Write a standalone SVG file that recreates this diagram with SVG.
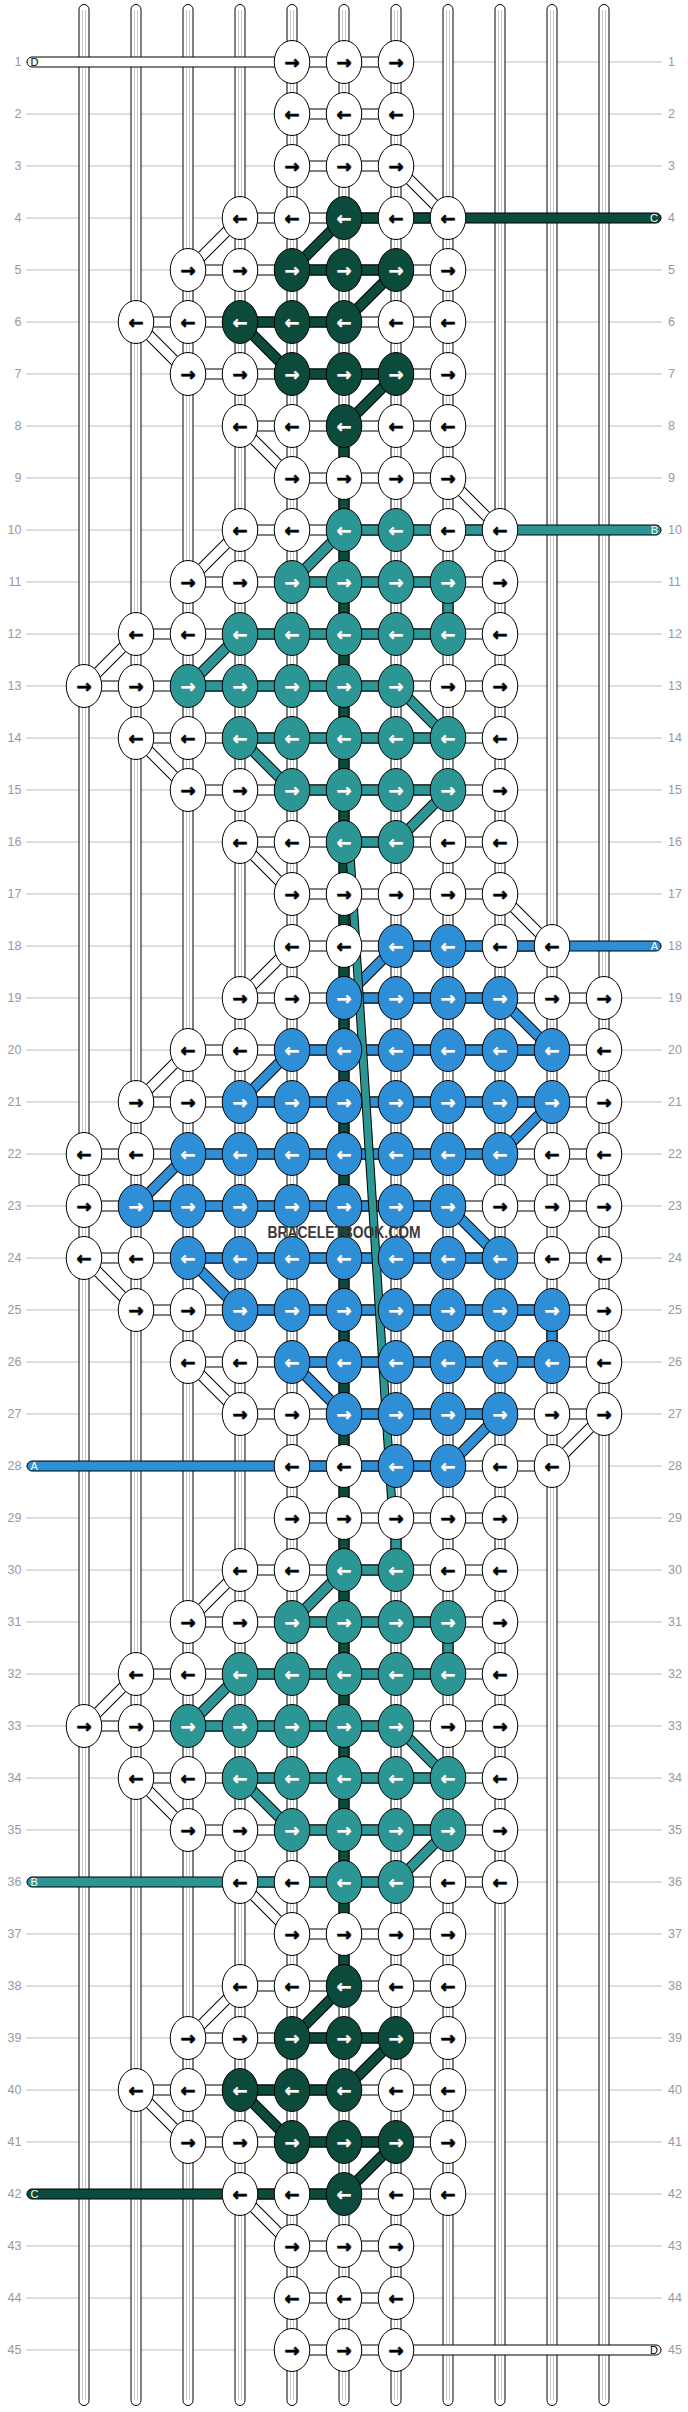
<svg xmlns="http://www.w3.org/2000/svg" width="688" height="2412" viewBox="0 0 688 2412">
<style>
.gl{fill:none;stroke:#bdbdbd;stroke-width:1.2}
.rl{font-family:"Liberation Sans",Arial,sans-serif;font-size:12.5px;fill:#999;dominant-baseline:central}
.rl.l text{text-anchor:end}
.st{fill:#fff;stroke:#000;stroke-width:1}
.sg{fill:none;stroke:#c8c8c8;stroke-width:1}
.hw{fill:#fff;stroke:#000;stroke-width:1}
.hd{fill:#0c4a3b;stroke:#000;stroke-width:1}
.ht{fill:#2b9693;stroke:#000;stroke-width:1}
.hb{fill:#2f8fd6;stroke:#000;stroke-width:1}
.o{fill:none;stroke:#000;stroke-width:11}
.iw{fill:none;stroke:#fff;stroke-width:9}
.id{fill:none;stroke:#0c4a3b;stroke-width:9}
.it{fill:none;stroke:#2b9693;stroke-width:9}
.ib{fill:none;stroke:#2f8fd6;stroke-width:9}
.k text{font-family:"DejaVu Sans",sans-serif;font-weight:bold;font-size:18px;text-anchor:middle;dominant-baseline:central}
.k.w{fill:#fff}.k.w text{fill:#000;stroke:#000;stroke-width:0.7}
.k.d{fill:#0c4a3b}.k.t{fill:#2b9693}.k.b{fill:#2f8fd6}
.k.d text,.k.t text,.k.b text{fill:#fff;stroke:#fff;stroke-width:0.4}
.sl{font-family:"Liberation Sans",Arial,sans-serif;font-size:11px;dominant-baseline:central}
</style>
<defs>
<ellipse id="E" rx="17.75" ry="21.5" stroke="#000" stroke-width="1"/>
<path id="dW" d="M396 166L448 218M240 218L188 270M136 322L188 374M240 426L292 478M448 478L500 530M240 530L188 582M136 634L84 686M136 738L188 790M240 842L292 894M500 894L552 946M292 946L240 998M188 1050L136 1102M84 1258L136 1310M188 1362L240 1414M604 1414L552 1466M240 1570L188 1622M136 1674L84 1726M136 1778L188 1830M240 1882L292 1934M240 1986L188 2038M136 2090L188 2142M240 2194L292 2246"/>
<path id="dD" d="M344 218L292 270M396 270L344 322M240 322L292 374M396 374L344 426M344 1986L292 2038M396 2038L344 2090M240 2090L292 2142M396 2142L344 2194"/>
<path id="dT" d="M344 530L292 582M240 634L188 686M396 686L448 738M240 738L292 790M448 790L396 842M344 1570L292 1622M240 1674L188 1726M396 1726L448 1778M240 1778L292 1830M448 1830L396 1882"/>
<path id="dB" d="M396 946L344 998M500 998L552 1050M292 1050L240 1102M552 1102L500 1154M188 1154L136 1206M448 1206L500 1258M188 1258L240 1310M292 1362L344 1414M500 1414L448 1466"/>
</defs>
<rect width="688" height="2412" fill="#fff"/>
<g id="grid">
<path class="gl" d="M26 62H662M26 114H662M26 166H662M26 218H662M26 270H662M26 322H662M26 374H662M26 426H662M26 478H662M26 530H662M26 582H662M26 634H662M26 686H662M26 738H662M26 790H662M26 842H662M26 894H662M26 946H662M26 998H662M26 1050H662M26 1102H662M26 1154H662M26 1206H662M26 1258H662M26 1310H662M26 1362H662M26 1414H662M26 1466H662M26 1518H662M26 1570H662M26 1622H662M26 1674H662M26 1726H662M26 1778H662M26 1830H662M26 1882H662M26 1934H662M26 1986H662M26 2038H662M26 2090H662M26 2142H662M26 2194H662M26 2246H662M26 2298H662M26 2350H662"/>
<g class="rl l">
<text x="21.5" y="62">1</text><text x="21.5" y="114">2</text><text x="21.5" y="166">3</text><text x="21.5" y="218">4</text><text x="21.5" y="270">5</text><text x="21.5" y="322">6</text><text x="21.5" y="374">7</text><text x="21.5" y="426">8</text><text x="21.5" y="478">9</text><text x="21.5" y="530">10</text><text x="21.5" y="582">11</text><text x="21.5" y="634">12</text><text x="21.5" y="686">13</text><text x="21.5" y="738">14</text><text x="21.5" y="790">15</text><text x="21.5" y="842">16</text><text x="21.5" y="894">17</text><text x="21.5" y="946">18</text><text x="21.5" y="998">19</text><text x="21.5" y="1050">20</text><text x="21.5" y="1102">21</text><text x="21.5" y="1154">22</text><text x="21.5" y="1206">23</text><text x="21.5" y="1258">24</text><text x="21.5" y="1310">25</text><text x="21.5" y="1362">26</text><text x="21.5" y="1414">27</text><text x="21.5" y="1466">28</text><text x="21.5" y="1518">29</text><text x="21.5" y="1570">30</text><text x="21.5" y="1622">31</text><text x="21.5" y="1674">32</text><text x="21.5" y="1726">33</text><text x="21.5" y="1778">34</text><text x="21.5" y="1830">35</text><text x="21.5" y="1882">36</text><text x="21.5" y="1934">37</text><text x="21.5" y="1986">38</text><text x="21.5" y="2038">39</text><text x="21.5" y="2090">40</text><text x="21.5" y="2142">41</text><text x="21.5" y="2194">42</text><text x="21.5" y="2246">43</text><text x="21.5" y="2298">44</text><text x="21.5" y="2350">45</text>
</g>
<g class="rl">
<text x="668" y="62">1</text><text x="668" y="114">2</text><text x="668" y="166">3</text><text x="668" y="218">4</text><text x="668" y="270">5</text><text x="668" y="322">6</text><text x="668" y="374">7</text><text x="668" y="426">8</text><text x="668" y="478">9</text><text x="668" y="530">10</text><text x="668" y="582">11</text><text x="668" y="634">12</text><text x="668" y="686">13</text><text x="668" y="738">14</text><text x="668" y="790">15</text><text x="668" y="842">16</text><text x="668" y="894">17</text><text x="668" y="946">18</text><text x="668" y="998">19</text><text x="668" y="1050">20</text><text x="668" y="1102">21</text><text x="668" y="1154">22</text><text x="668" y="1206">23</text><text x="668" y="1258">24</text><text x="668" y="1310">25</text><text x="668" y="1362">26</text><text x="668" y="1414">27</text><text x="668" y="1466">28</text><text x="668" y="1518">29</text><text x="668" y="1570">30</text><text x="668" y="1622">31</text><text x="668" y="1674">32</text><text x="668" y="1726">33</text><text x="668" y="1778">34</text><text x="668" y="1830">35</text><text x="668" y="1882">36</text><text x="668" y="1934">37</text><text x="668" y="1986">38</text><text x="668" y="2038">39</text><text x="668" y="2090">40</text><text x="668" y="2142">41</text><text x="668" y="2194">42</text><text x="668" y="2246">43</text><text x="668" y="2298">44</text><text x="668" y="2350">45</text>
</g>
</g>
<g id="connectors">
<g id="strands">
<rect class="st" x="79" y="4.5" width="10" height="2401" rx="5"/>
<rect class="st" x="131" y="4.5" width="10" height="2401" rx="5"/>
<rect class="st" x="183" y="4.5" width="10" height="2401" rx="5"/>
<rect class="st" x="235" y="4.5" width="10" height="2401" rx="5"/>
<rect class="st" x="287" y="4.5" width="10" height="2401" rx="5"/>
<rect class="st" x="339" y="4.5" width="10" height="2401" rx="5"/>
<rect class="st" x="391" y="4.5" width="10" height="2401" rx="5"/>
<rect class="st" x="443" y="4.5" width="10" height="2401" rx="5"/>
<rect class="st" x="495" y="4.5" width="10" height="2401" rx="5"/>
<rect class="st" x="547" y="4.5" width="10" height="2401" rx="5"/>
<rect class="st" x="599" y="4.5" width="10" height="2401" rx="5"/>
<path class="sg" d="M82.5 10V2400M85.5 10V2400M134.5 10V2400M137.5 10V2400M186.5 10V2400M189.5 10V2400M238.5 10V2400M241.5 10V2400M290.5 10V2400M293.5 10V2400M342.5 10V2400M345.5 10V2400M394.5 10V2400M397.5 10V2400M446.5 10V2400M449.5 10V2400M498.5 10V2400M501.5 10V2400M550.5 10V2400M553.5 10V2400M602.5 10V2400M605.5 10V2400"/>
</g>
<g id="vertical-colored">
<rect class="hd" x="339" y="426" width="10" height="1560"/>
<rect class="ht" x="443" y="582" width="10" height="52"/>
<rect class="ht" x="443" y="1622" width="10" height="52"/>
<rect class="hb" x="547" y="1310" width="10" height="52"/>
<rect class="ht" x="391" y="1518" width="10" height="52"/>
</g>
<g id="diagonals">
<use href="#dW" class="o"/><use href="#dW" class="iw"/>
<use href="#dD" class="o"/><use href="#dD" class="id"/>
<use href="#dT" class="o"/><use href="#dT" class="it"/>
<use href="#dB" class="o"/><use href="#dB" class="ib"/>
</g>
<g id="horizontal-white">
<rect class="hw" x="27" y="57" width="369" height="10" rx="5"/>
<rect class="hw" x="292" y="109" width="104" height="10"/>
<rect class="hw" x="292" y="161" width="104" height="10"/>
<rect class="hw" x="240" y="213" width="208" height="10"/>
<rect class="hw" x="188" y="265" width="260" height="10"/>
<rect class="hw" x="136" y="317" width="312" height="10"/>
<rect class="hw" x="188" y="369" width="260" height="10"/>
<rect class="hw" x="240" y="421" width="208" height="10"/>
<rect class="hw" x="292" y="473" width="156" height="10"/>
<rect class="hw" x="240" y="525" width="260" height="10"/>
<rect class="hw" x="188" y="577" width="312" height="10"/>
<rect class="hw" x="136" y="629" width="364" height="10"/>
<rect class="hw" x="84" y="681" width="416" height="10"/>
<rect class="hw" x="136" y="733" width="364" height="10"/>
<rect class="hw" x="188" y="785" width="312" height="10"/>
<rect class="hw" x="240" y="837" width="260" height="10"/>
<rect class="hw" x="292" y="889" width="208" height="10"/>
<rect class="hw" x="292" y="941" width="260" height="10"/>
<rect class="hw" x="240" y="993" width="364" height="10"/>
<rect class="hw" x="188" y="1045" width="416" height="10"/>
<rect class="hw" x="136" y="1097" width="468" height="10"/>
<rect class="hw" x="84" y="1149" width="520" height="10"/>
<rect class="hw" x="84" y="1201" width="520" height="10"/>
<rect class="hw" x="84" y="1253" width="520" height="10"/>
<rect class="hw" x="136" y="1305" width="468" height="10"/>
<rect class="hw" x="188" y="1357" width="416" height="10"/>
<rect class="hw" x="240" y="1409" width="364" height="10"/>
<rect class="hw" x="292" y="1461" width="260" height="10"/>
<rect class="hw" x="292" y="1513" width="208" height="10"/>
<rect class="hw" x="240" y="1565" width="260" height="10"/>
<rect class="hw" x="188" y="1617" width="312" height="10"/>
<rect class="hw" x="136" y="1669" width="364" height="10"/>
<rect class="hw" x="84" y="1721" width="416" height="10"/>
<rect class="hw" x="136" y="1773" width="364" height="10"/>
<rect class="hw" x="188" y="1825" width="312" height="10"/>
<rect class="hw" x="240" y="1877" width="260" height="10"/>
<rect class="hw" x="292" y="1929" width="156" height="10"/>
<rect class="hw" x="240" y="1981" width="208" height="10"/>
<rect class="hw" x="188" y="2033" width="260" height="10"/>
<rect class="hw" x="136" y="2085" width="312" height="10"/>
<rect class="hw" x="188" y="2137" width="260" height="10"/>
<rect class="hw" x="240" y="2189" width="208" height="10"/>
<rect class="hw" x="292" y="2241" width="104" height="10"/>
<rect class="hw" x="292" y="2293" width="104" height="10"/>
<rect class="hw" x="292" y="2345" width="369" height="10" rx="5"/>
</g>
<g id="horizontal-colored">
<rect class="hd" x="344" y="213" width="317" height="10" rx="5"/>
<rect class="hd" x="292" y="265" width="104" height="10"/>
<rect class="hd" x="240" y="317" width="104" height="10"/>
<rect class="hd" x="292" y="369" width="104" height="10"/>
<rect class="ht" x="344" y="525" width="317" height="10" rx="5"/>
<rect class="ht" x="292" y="577" width="156" height="10"/>
<rect class="ht" x="240" y="629" width="208" height="10"/>
<rect class="ht" x="188" y="681" width="208" height="10"/>
<rect class="ht" x="240" y="733" width="208" height="10"/>
<rect class="ht" x="292" y="785" width="156" height="10"/>
<rect class="ht" x="344" y="837" width="52" height="10"/>
<rect class="hb" x="396" y="941" width="265" height="10" rx="5"/>
<rect class="hb" x="344" y="993" width="156" height="10"/>
<rect class="hb" x="292" y="1045" width="260" height="10"/>
<rect class="hb" x="240" y="1097" width="312" height="10"/>
<rect class="hb" x="188" y="1149" width="312" height="10"/>
<rect class="hb" x="136" y="1201" width="312" height="10"/>
<rect class="hb" x="188" y="1253" width="312" height="10"/>
<rect class="hb" x="240" y="1305" width="312" height="10"/>
<rect class="hb" x="292" y="1357" width="260" height="10"/>
<rect class="hb" x="344" y="1409" width="156" height="10"/>
<rect class="hb" x="27" y="1461" width="421" height="10" rx="5"/>
<rect class="ht" x="344" y="1565" width="52" height="10"/>
<rect class="ht" x="292" y="1617" width="156" height="10"/>
<rect class="ht" x="240" y="1669" width="208" height="10"/>
<rect class="ht" x="188" y="1721" width="208" height="10"/>
<rect class="ht" x="240" y="1773" width="208" height="10"/>
<rect class="ht" x="292" y="1825" width="156" height="10"/>
<rect class="ht" x="27" y="1877" width="369" height="10" rx="5"/>
<rect class="hd" x="292" y="2033" width="104" height="10"/>
<rect class="hd" x="240" y="2085" width="104" height="10"/>
<rect class="hd" x="292" y="2137" width="104" height="10"/>
<rect class="hd" x="27" y="2189" width="317" height="10" rx="5"/>
</g>
<g id="teal-crossing">
<line x1="349.5" y1="846" x2="392.5" y2="1514" stroke="#000" stroke-width="9"/>
<line x1="349.5" y1="846" x2="392.5" y2="1514" stroke="#2b9693" stroke-width="7"/>
</g>
</g>
<g id="knots">
<g id="k1-4" class="k w" transform="translate(292 62)"><use href="#E"/><text>→</text></g>
<g id="k1-5" class="k w" transform="translate(344 62)"><use href="#E"/><text>→</text></g>
<g id="k1-6" class="k w" transform="translate(396 62)"><use href="#E"/><text>→</text></g>
<g id="k2-4" class="k w" transform="translate(292 114)"><use href="#E"/><text>←</text></g>
<g id="k2-5" class="k w" transform="translate(344 114)"><use href="#E"/><text>←</text></g>
<g id="k2-6" class="k w" transform="translate(396 114)"><use href="#E"/><text>←</text></g>
<g id="k3-4" class="k w" transform="translate(292 166)"><use href="#E"/><text>→</text></g>
<g id="k3-5" class="k w" transform="translate(344 166)"><use href="#E"/><text>→</text></g>
<g id="k3-6" class="k w" transform="translate(396 166)"><use href="#E"/><text>→</text></g>
<g id="k4-3" class="k w" transform="translate(240 218)"><use href="#E"/><text>←</text></g>
<g id="k4-4" class="k w" transform="translate(292 218)"><use href="#E"/><text>←</text></g>
<g id="k4-5" class="k d" transform="translate(344 218)"><use href="#E"/><text>←</text></g>
<g id="k4-6" class="k w" transform="translate(396 218)"><use href="#E"/><text>←</text></g>
<g id="k4-7" class="k w" transform="translate(448 218)"><use href="#E"/><text>←</text></g>
<g id="k5-2" class="k w" transform="translate(188 270)"><use href="#E"/><text>→</text></g>
<g id="k5-3" class="k w" transform="translate(240 270)"><use href="#E"/><text>→</text></g>
<g id="k5-4" class="k d" transform="translate(292 270)"><use href="#E"/><text>→</text></g>
<g id="k5-5" class="k d" transform="translate(344 270)"><use href="#E"/><text>→</text></g>
<g id="k5-6" class="k d" transform="translate(396 270)"><use href="#E"/><text>→</text></g>
<g id="k5-7" class="k w" transform="translate(448 270)"><use href="#E"/><text>→</text></g>
<g id="k6-1" class="k w" transform="translate(136 322)"><use href="#E"/><text>←</text></g>
<g id="k6-2" class="k w" transform="translate(188 322)"><use href="#E"/><text>←</text></g>
<g id="k6-3" class="k d" transform="translate(240 322)"><use href="#E"/><text>←</text></g>
<g id="k6-4" class="k d" transform="translate(292 322)"><use href="#E"/><text>←</text></g>
<g id="k6-5" class="k d" transform="translate(344 322)"><use href="#E"/><text>←</text></g>
<g id="k6-6" class="k w" transform="translate(396 322)"><use href="#E"/><text>←</text></g>
<g id="k6-7" class="k w" transform="translate(448 322)"><use href="#E"/><text>←</text></g>
<g id="k7-2" class="k w" transform="translate(188 374)"><use href="#E"/><text>→</text></g>
<g id="k7-3" class="k w" transform="translate(240 374)"><use href="#E"/><text>→</text></g>
<g id="k7-4" class="k d" transform="translate(292 374)"><use href="#E"/><text>→</text></g>
<g id="k7-5" class="k d" transform="translate(344 374)"><use href="#E"/><text>→</text></g>
<g id="k7-6" class="k d" transform="translate(396 374)"><use href="#E"/><text>→</text></g>
<g id="k7-7" class="k w" transform="translate(448 374)"><use href="#E"/><text>→</text></g>
<g id="k8-3" class="k w" transform="translate(240 426)"><use href="#E"/><text>←</text></g>
<g id="k8-4" class="k w" transform="translate(292 426)"><use href="#E"/><text>←</text></g>
<g id="k8-5" class="k d" transform="translate(344 426)"><use href="#E"/><text>←</text></g>
<g id="k8-6" class="k w" transform="translate(396 426)"><use href="#E"/><text>←</text></g>
<g id="k8-7" class="k w" transform="translate(448 426)"><use href="#E"/><text>←</text></g>
<g id="k9-4" class="k w" transform="translate(292 478)"><use href="#E"/><text>→</text></g>
<g id="k9-5" class="k w" transform="translate(344 478)"><use href="#E"/><text>→</text></g>
<g id="k9-6" class="k w" transform="translate(396 478)"><use href="#E"/><text>→</text></g>
<g id="k9-7" class="k w" transform="translate(448 478)"><use href="#E"/><text>→</text></g>
<g id="k10-3" class="k w" transform="translate(240 530)"><use href="#E"/><text>←</text></g>
<g id="k10-4" class="k w" transform="translate(292 530)"><use href="#E"/><text>←</text></g>
<g id="k10-5" class="k t" transform="translate(344 530)"><use href="#E"/><text>←</text></g>
<g id="k10-6" class="k t" transform="translate(396 530)"><use href="#E"/><text>←</text></g>
<g id="k10-7" class="k w" transform="translate(448 530)"><use href="#E"/><text>←</text></g>
<g id="k10-8" class="k w" transform="translate(500 530)"><use href="#E"/><text>←</text></g>
<g id="k11-2" class="k w" transform="translate(188 582)"><use href="#E"/><text>→</text></g>
<g id="k11-3" class="k w" transform="translate(240 582)"><use href="#E"/><text>→</text></g>
<g id="k11-4" class="k t" transform="translate(292 582)"><use href="#E"/><text>→</text></g>
<g id="k11-5" class="k t" transform="translate(344 582)"><use href="#E"/><text>→</text></g>
<g id="k11-6" class="k t" transform="translate(396 582)"><use href="#E"/><text>→</text></g>
<g id="k11-7" class="k t" transform="translate(448 582)"><use href="#E"/><text>→</text></g>
<g id="k11-8" class="k w" transform="translate(500 582)"><use href="#E"/><text>→</text></g>
<g id="k12-1" class="k w" transform="translate(136 634)"><use href="#E"/><text>←</text></g>
<g id="k12-2" class="k w" transform="translate(188 634)"><use href="#E"/><text>←</text></g>
<g id="k12-3" class="k t" transform="translate(240 634)"><use href="#E"/><text>←</text></g>
<g id="k12-4" class="k t" transform="translate(292 634)"><use href="#E"/><text>←</text></g>
<g id="k12-5" class="k t" transform="translate(344 634)"><use href="#E"/><text>←</text></g>
<g id="k12-6" class="k t" transform="translate(396 634)"><use href="#E"/><text>←</text></g>
<g id="k12-7" class="k t" transform="translate(448 634)"><use href="#E"/><text>←</text></g>
<g id="k12-8" class="k w" transform="translate(500 634)"><use href="#E"/><text>←</text></g>
<g id="k13-0" class="k w" transform="translate(84 686)"><use href="#E"/><text>→</text></g>
<g id="k13-1" class="k w" transform="translate(136 686)"><use href="#E"/><text>→</text></g>
<g id="k13-2" class="k t" transform="translate(188 686)"><use href="#E"/><text>→</text></g>
<g id="k13-3" class="k t" transform="translate(240 686)"><use href="#E"/><text>→</text></g>
<g id="k13-4" class="k t" transform="translate(292 686)"><use href="#E"/><text>→</text></g>
<g id="k13-5" class="k t" transform="translate(344 686)"><use href="#E"/><text>→</text></g>
<g id="k13-6" class="k t" transform="translate(396 686)"><use href="#E"/><text>→</text></g>
<g id="k13-7" class="k w" transform="translate(448 686)"><use href="#E"/><text>→</text></g>
<g id="k13-8" class="k w" transform="translate(500 686)"><use href="#E"/><text>→</text></g>
<g id="k14-1" class="k w" transform="translate(136 738)"><use href="#E"/><text>←</text></g>
<g id="k14-2" class="k w" transform="translate(188 738)"><use href="#E"/><text>←</text></g>
<g id="k14-3" class="k t" transform="translate(240 738)"><use href="#E"/><text>←</text></g>
<g id="k14-4" class="k t" transform="translate(292 738)"><use href="#E"/><text>←</text></g>
<g id="k14-5" class="k t" transform="translate(344 738)"><use href="#E"/><text>←</text></g>
<g id="k14-6" class="k t" transform="translate(396 738)"><use href="#E"/><text>←</text></g>
<g id="k14-7" class="k t" transform="translate(448 738)"><use href="#E"/><text>←</text></g>
<g id="k14-8" class="k w" transform="translate(500 738)"><use href="#E"/><text>←</text></g>
<g id="k15-2" class="k w" transform="translate(188 790)"><use href="#E"/><text>→</text></g>
<g id="k15-3" class="k w" transform="translate(240 790)"><use href="#E"/><text>→</text></g>
<g id="k15-4" class="k t" transform="translate(292 790)"><use href="#E"/><text>→</text></g>
<g id="k15-5" class="k t" transform="translate(344 790)"><use href="#E"/><text>→</text></g>
<g id="k15-6" class="k t" transform="translate(396 790)"><use href="#E"/><text>→</text></g>
<g id="k15-7" class="k t" transform="translate(448 790)"><use href="#E"/><text>→</text></g>
<g id="k15-8" class="k w" transform="translate(500 790)"><use href="#E"/><text>→</text></g>
<g id="k16-3" class="k w" transform="translate(240 842)"><use href="#E"/><text>←</text></g>
<g id="k16-4" class="k w" transform="translate(292 842)"><use href="#E"/><text>←</text></g>
<g id="k16-5" class="k t" transform="translate(344 842)"><use href="#E"/><text>←</text></g>
<g id="k16-6" class="k t" transform="translate(396 842)"><use href="#E"/><text>←</text></g>
<g id="k16-7" class="k w" transform="translate(448 842)"><use href="#E"/><text>←</text></g>
<g id="k16-8" class="k w" transform="translate(500 842)"><use href="#E"/><text>←</text></g>
<g id="k17-4" class="k w" transform="translate(292 894)"><use href="#E"/><text>→</text></g>
<g id="k17-5" class="k w" transform="translate(344 894)"><use href="#E"/><text>→</text></g>
<g id="k17-6" class="k w" transform="translate(396 894)"><use href="#E"/><text>→</text></g>
<g id="k17-7" class="k w" transform="translate(448 894)"><use href="#E"/><text>→</text></g>
<g id="k17-8" class="k w" transform="translate(500 894)"><use href="#E"/><text>→</text></g>
<g id="k18-4" class="k w" transform="translate(292 946)"><use href="#E"/><text>←</text></g>
<g id="k18-5" class="k w" transform="translate(344 946)"><use href="#E"/><text>←</text></g>
<g id="k18-6" class="k b" transform="translate(396 946)"><use href="#E"/><text>←</text></g>
<g id="k18-7" class="k b" transform="translate(448 946)"><use href="#E"/><text>←</text></g>
<g id="k18-8" class="k w" transform="translate(500 946)"><use href="#E"/><text>←</text></g>
<g id="k18-9" class="k w" transform="translate(552 946)"><use href="#E"/><text>←</text></g>
<g id="k19-3" class="k w" transform="translate(240 998)"><use href="#E"/><text>→</text></g>
<g id="k19-4" class="k w" transform="translate(292 998)"><use href="#E"/><text>→</text></g>
<g id="k19-5" class="k b" transform="translate(344 998)"><use href="#E"/><text>→</text></g>
<g id="k19-6" class="k b" transform="translate(396 998)"><use href="#E"/><text>→</text></g>
<g id="k19-7" class="k b" transform="translate(448 998)"><use href="#E"/><text>→</text></g>
<g id="k19-8" class="k b" transform="translate(500 998)"><use href="#E"/><text>→</text></g>
<g id="k19-9" class="k w" transform="translate(552 998)"><use href="#E"/><text>→</text></g>
<g id="k19-10" class="k w" transform="translate(604 998)"><use href="#E"/><text>→</text></g>
<g id="k20-2" class="k w" transform="translate(188 1050)"><use href="#E"/><text>←</text></g>
<g id="k20-3" class="k w" transform="translate(240 1050)"><use href="#E"/><text>←</text></g>
<g id="k20-4" class="k b" transform="translate(292 1050)"><use href="#E"/><text>←</text></g>
<g id="k20-5" class="k b" transform="translate(344 1050)"><use href="#E"/><text>←</text></g>
<g id="k20-6" class="k b" transform="translate(396 1050)"><use href="#E"/><text>←</text></g>
<g id="k20-7" class="k b" transform="translate(448 1050)"><use href="#E"/><text>←</text></g>
<g id="k20-8" class="k b" transform="translate(500 1050)"><use href="#E"/><text>←</text></g>
<g id="k20-9" class="k b" transform="translate(552 1050)"><use href="#E"/><text>←</text></g>
<g id="k20-10" class="k w" transform="translate(604 1050)"><use href="#E"/><text>←</text></g>
<g id="k21-1" class="k w" transform="translate(136 1102)"><use href="#E"/><text>→</text></g>
<g id="k21-2" class="k w" transform="translate(188 1102)"><use href="#E"/><text>→</text></g>
<g id="k21-3" class="k b" transform="translate(240 1102)"><use href="#E"/><text>→</text></g>
<g id="k21-4" class="k b" transform="translate(292 1102)"><use href="#E"/><text>→</text></g>
<g id="k21-5" class="k b" transform="translate(344 1102)"><use href="#E"/><text>→</text></g>
<g id="k21-6" class="k b" transform="translate(396 1102)"><use href="#E"/><text>→</text></g>
<g id="k21-7" class="k b" transform="translate(448 1102)"><use href="#E"/><text>→</text></g>
<g id="k21-8" class="k b" transform="translate(500 1102)"><use href="#E"/><text>→</text></g>
<g id="k21-9" class="k b" transform="translate(552 1102)"><use href="#E"/><text>→</text></g>
<g id="k21-10" class="k w" transform="translate(604 1102)"><use href="#E"/><text>→</text></g>
<g id="k22-0" class="k w" transform="translate(84 1154)"><use href="#E"/><text>←</text></g>
<g id="k22-1" class="k w" transform="translate(136 1154)"><use href="#E"/><text>←</text></g>
<g id="k22-2" class="k b" transform="translate(188 1154)"><use href="#E"/><text>←</text></g>
<g id="k22-3" class="k b" transform="translate(240 1154)"><use href="#E"/><text>←</text></g>
<g id="k22-4" class="k b" transform="translate(292 1154)"><use href="#E"/><text>←</text></g>
<g id="k22-5" class="k b" transform="translate(344 1154)"><use href="#E"/><text>←</text></g>
<g id="k22-6" class="k b" transform="translate(396 1154)"><use href="#E"/><text>←</text></g>
<g id="k22-7" class="k b" transform="translate(448 1154)"><use href="#E"/><text>←</text></g>
<g id="k22-8" class="k b" transform="translate(500 1154)"><use href="#E"/><text>←</text></g>
<g id="k22-9" class="k w" transform="translate(552 1154)"><use href="#E"/><text>←</text></g>
<g id="k22-10" class="k w" transform="translate(604 1154)"><use href="#E"/><text>←</text></g>
<g id="k23-0" class="k w" transform="translate(84 1206)"><use href="#E"/><text>→</text></g>
<g id="k23-1" class="k b" transform="translate(136 1206)"><use href="#E"/><text>→</text></g>
<g id="k23-2" class="k b" transform="translate(188 1206)"><use href="#E"/><text>→</text></g>
<g id="k23-3" class="k b" transform="translate(240 1206)"><use href="#E"/><text>→</text></g>
<g id="k23-4" class="k b" transform="translate(292 1206)"><use href="#E"/><text>→</text></g>
<g id="k23-5" class="k b" transform="translate(344 1206)"><use href="#E"/><text>→</text></g>
<g id="k23-6" class="k b" transform="translate(396 1206)"><use href="#E"/><text>→</text></g>
<g id="k23-7" class="k b" transform="translate(448 1206)"><use href="#E"/><text>→</text></g>
<g id="k23-8" class="k w" transform="translate(500 1206)"><use href="#E"/><text>→</text></g>
<g id="k23-9" class="k w" transform="translate(552 1206)"><use href="#E"/><text>→</text></g>
<g id="k23-10" class="k w" transform="translate(604 1206)"><use href="#E"/><text>→</text></g>
<g id="k24-0" class="k w" transform="translate(84 1258)"><use href="#E"/><text>←</text></g>
<g id="k24-1" class="k w" transform="translate(136 1258)"><use href="#E"/><text>←</text></g>
<g id="k24-2" class="k b" transform="translate(188 1258)"><use href="#E"/><text>←</text></g>
<g id="k24-3" class="k b" transform="translate(240 1258)"><use href="#E"/><text>←</text></g>
<g id="k24-4" class="k b" transform="translate(292 1258)"><use href="#E"/><text>←</text></g>
<g id="k24-5" class="k b" transform="translate(344 1258)"><use href="#E"/><text>←</text></g>
<g id="k24-6" class="k b" transform="translate(396 1258)"><use href="#E"/><text>←</text></g>
<g id="k24-7" class="k b" transform="translate(448 1258)"><use href="#E"/><text>←</text></g>
<g id="k24-8" class="k b" transform="translate(500 1258)"><use href="#E"/><text>←</text></g>
<g id="k24-9" class="k w" transform="translate(552 1258)"><use href="#E"/><text>←</text></g>
<g id="k24-10" class="k w" transform="translate(604 1258)"><use href="#E"/><text>←</text></g>
<g id="k25-1" class="k w" transform="translate(136 1310)"><use href="#E"/><text>→</text></g>
<g id="k25-2" class="k w" transform="translate(188 1310)"><use href="#E"/><text>→</text></g>
<g id="k25-3" class="k b" transform="translate(240 1310)"><use href="#E"/><text>→</text></g>
<g id="k25-4" class="k b" transform="translate(292 1310)"><use href="#E"/><text>→</text></g>
<g id="k25-5" class="k b" transform="translate(344 1310)"><use href="#E"/><text>→</text></g>
<g id="k25-6" class="k b" transform="translate(396 1310)"><use href="#E"/><text>→</text></g>
<g id="k25-7" class="k b" transform="translate(448 1310)"><use href="#E"/><text>→</text></g>
<g id="k25-8" class="k b" transform="translate(500 1310)"><use href="#E"/><text>→</text></g>
<g id="k25-9" class="k b" transform="translate(552 1310)"><use href="#E"/><text>→</text></g>
<g id="k25-10" class="k w" transform="translate(604 1310)"><use href="#E"/><text>→</text></g>
<g id="k26-2" class="k w" transform="translate(188 1362)"><use href="#E"/><text>←</text></g>
<g id="k26-3" class="k w" transform="translate(240 1362)"><use href="#E"/><text>←</text></g>
<g id="k26-4" class="k b" transform="translate(292 1362)"><use href="#E"/><text>←</text></g>
<g id="k26-5" class="k b" transform="translate(344 1362)"><use href="#E"/><text>←</text></g>
<g id="k26-6" class="k b" transform="translate(396 1362)"><use href="#E"/><text>←</text></g>
<g id="k26-7" class="k b" transform="translate(448 1362)"><use href="#E"/><text>←</text></g>
<g id="k26-8" class="k b" transform="translate(500 1362)"><use href="#E"/><text>←</text></g>
<g id="k26-9" class="k b" transform="translate(552 1362)"><use href="#E"/><text>←</text></g>
<g id="k26-10" class="k w" transform="translate(604 1362)"><use href="#E"/><text>←</text></g>
<g id="k27-3" class="k w" transform="translate(240 1414)"><use href="#E"/><text>→</text></g>
<g id="k27-4" class="k w" transform="translate(292 1414)"><use href="#E"/><text>→</text></g>
<g id="k27-5" class="k b" transform="translate(344 1414)"><use href="#E"/><text>→</text></g>
<g id="k27-6" class="k b" transform="translate(396 1414)"><use href="#E"/><text>→</text></g>
<g id="k27-7" class="k b" transform="translate(448 1414)"><use href="#E"/><text>→</text></g>
<g id="k27-8" class="k b" transform="translate(500 1414)"><use href="#E"/><text>→</text></g>
<g id="k27-9" class="k w" transform="translate(552 1414)"><use href="#E"/><text>→</text></g>
<g id="k27-10" class="k w" transform="translate(604 1414)"><use href="#E"/><text>→</text></g>
<g id="k28-4" class="k w" transform="translate(292 1466)"><use href="#E"/><text>←</text></g>
<g id="k28-5" class="k w" transform="translate(344 1466)"><use href="#E"/><text>←</text></g>
<g id="k28-6" class="k b" transform="translate(396 1466)"><use href="#E"/><text>←</text></g>
<g id="k28-7" class="k b" transform="translate(448 1466)"><use href="#E"/><text>←</text></g>
<g id="k28-8" class="k w" transform="translate(500 1466)"><use href="#E"/><text>←</text></g>
<g id="k28-9" class="k w" transform="translate(552 1466)"><use href="#E"/><text>←</text></g>
<g id="k29-4" class="k w" transform="translate(292 1518)"><use href="#E"/><text>→</text></g>
<g id="k29-5" class="k w" transform="translate(344 1518)"><use href="#E"/><text>→</text></g>
<g id="k29-6" class="k w" transform="translate(396 1518)"><use href="#E"/><text>→</text></g>
<g id="k29-7" class="k w" transform="translate(448 1518)"><use href="#E"/><text>→</text></g>
<g id="k29-8" class="k w" transform="translate(500 1518)"><use href="#E"/><text>→</text></g>
<g id="k30-3" class="k w" transform="translate(240 1570)"><use href="#E"/><text>←</text></g>
<g id="k30-4" class="k w" transform="translate(292 1570)"><use href="#E"/><text>←</text></g>
<g id="k30-5" class="k t" transform="translate(344 1570)"><use href="#E"/><text>←</text></g>
<g id="k30-6" class="k t" transform="translate(396 1570)"><use href="#E"/><text>←</text></g>
<g id="k30-7" class="k w" transform="translate(448 1570)"><use href="#E"/><text>←</text></g>
<g id="k30-8" class="k w" transform="translate(500 1570)"><use href="#E"/><text>←</text></g>
<g id="k31-2" class="k w" transform="translate(188 1622)"><use href="#E"/><text>→</text></g>
<g id="k31-3" class="k w" transform="translate(240 1622)"><use href="#E"/><text>→</text></g>
<g id="k31-4" class="k t" transform="translate(292 1622)"><use href="#E"/><text>→</text></g>
<g id="k31-5" class="k t" transform="translate(344 1622)"><use href="#E"/><text>→</text></g>
<g id="k31-6" class="k t" transform="translate(396 1622)"><use href="#E"/><text>→</text></g>
<g id="k31-7" class="k t" transform="translate(448 1622)"><use href="#E"/><text>→</text></g>
<g id="k31-8" class="k w" transform="translate(500 1622)"><use href="#E"/><text>→</text></g>
<g id="k32-1" class="k w" transform="translate(136 1674)"><use href="#E"/><text>←</text></g>
<g id="k32-2" class="k w" transform="translate(188 1674)"><use href="#E"/><text>←</text></g>
<g id="k32-3" class="k t" transform="translate(240 1674)"><use href="#E"/><text>←</text></g>
<g id="k32-4" class="k t" transform="translate(292 1674)"><use href="#E"/><text>←</text></g>
<g id="k32-5" class="k t" transform="translate(344 1674)"><use href="#E"/><text>←</text></g>
<g id="k32-6" class="k t" transform="translate(396 1674)"><use href="#E"/><text>←</text></g>
<g id="k32-7" class="k t" transform="translate(448 1674)"><use href="#E"/><text>←</text></g>
<g id="k32-8" class="k w" transform="translate(500 1674)"><use href="#E"/><text>←</text></g>
<g id="k33-0" class="k w" transform="translate(84 1726)"><use href="#E"/><text>→</text></g>
<g id="k33-1" class="k w" transform="translate(136 1726)"><use href="#E"/><text>→</text></g>
<g id="k33-2" class="k t" transform="translate(188 1726)"><use href="#E"/><text>→</text></g>
<g id="k33-3" class="k t" transform="translate(240 1726)"><use href="#E"/><text>→</text></g>
<g id="k33-4" class="k t" transform="translate(292 1726)"><use href="#E"/><text>→</text></g>
<g id="k33-5" class="k t" transform="translate(344 1726)"><use href="#E"/><text>→</text></g>
<g id="k33-6" class="k t" transform="translate(396 1726)"><use href="#E"/><text>→</text></g>
<g id="k33-7" class="k w" transform="translate(448 1726)"><use href="#E"/><text>→</text></g>
<g id="k33-8" class="k w" transform="translate(500 1726)"><use href="#E"/><text>→</text></g>
<g id="k34-1" class="k w" transform="translate(136 1778)"><use href="#E"/><text>←</text></g>
<g id="k34-2" class="k w" transform="translate(188 1778)"><use href="#E"/><text>←</text></g>
<g id="k34-3" class="k t" transform="translate(240 1778)"><use href="#E"/><text>←</text></g>
<g id="k34-4" class="k t" transform="translate(292 1778)"><use href="#E"/><text>←</text></g>
<g id="k34-5" class="k t" transform="translate(344 1778)"><use href="#E"/><text>←</text></g>
<g id="k34-6" class="k t" transform="translate(396 1778)"><use href="#E"/><text>←</text></g>
<g id="k34-7" class="k t" transform="translate(448 1778)"><use href="#E"/><text>←</text></g>
<g id="k34-8" class="k w" transform="translate(500 1778)"><use href="#E"/><text>←</text></g>
<g id="k35-2" class="k w" transform="translate(188 1830)"><use href="#E"/><text>→</text></g>
<g id="k35-3" class="k w" transform="translate(240 1830)"><use href="#E"/><text>→</text></g>
<g id="k35-4" class="k t" transform="translate(292 1830)"><use href="#E"/><text>→</text></g>
<g id="k35-5" class="k t" transform="translate(344 1830)"><use href="#E"/><text>→</text></g>
<g id="k35-6" class="k t" transform="translate(396 1830)"><use href="#E"/><text>→</text></g>
<g id="k35-7" class="k t" transform="translate(448 1830)"><use href="#E"/><text>→</text></g>
<g id="k35-8" class="k w" transform="translate(500 1830)"><use href="#E"/><text>→</text></g>
<g id="k36-3" class="k w" transform="translate(240 1882)"><use href="#E"/><text>←</text></g>
<g id="k36-4" class="k w" transform="translate(292 1882)"><use href="#E"/><text>←</text></g>
<g id="k36-5" class="k t" transform="translate(344 1882)"><use href="#E"/><text>←</text></g>
<g id="k36-6" class="k t" transform="translate(396 1882)"><use href="#E"/><text>←</text></g>
<g id="k36-7" class="k w" transform="translate(448 1882)"><use href="#E"/><text>←</text></g>
<g id="k36-8" class="k w" transform="translate(500 1882)"><use href="#E"/><text>←</text></g>
<g id="k37-4" class="k w" transform="translate(292 1934)"><use href="#E"/><text>→</text></g>
<g id="k37-5" class="k w" transform="translate(344 1934)"><use href="#E"/><text>→</text></g>
<g id="k37-6" class="k w" transform="translate(396 1934)"><use href="#E"/><text>→</text></g>
<g id="k37-7" class="k w" transform="translate(448 1934)"><use href="#E"/><text>→</text></g>
<g id="k38-3" class="k w" transform="translate(240 1986)"><use href="#E"/><text>←</text></g>
<g id="k38-4" class="k w" transform="translate(292 1986)"><use href="#E"/><text>←</text></g>
<g id="k38-5" class="k d" transform="translate(344 1986)"><use href="#E"/><text>←</text></g>
<g id="k38-6" class="k w" transform="translate(396 1986)"><use href="#E"/><text>←</text></g>
<g id="k38-7" class="k w" transform="translate(448 1986)"><use href="#E"/><text>←</text></g>
<g id="k39-2" class="k w" transform="translate(188 2038)"><use href="#E"/><text>→</text></g>
<g id="k39-3" class="k w" transform="translate(240 2038)"><use href="#E"/><text>→</text></g>
<g id="k39-4" class="k d" transform="translate(292 2038)"><use href="#E"/><text>→</text></g>
<g id="k39-5" class="k d" transform="translate(344 2038)"><use href="#E"/><text>→</text></g>
<g id="k39-6" class="k d" transform="translate(396 2038)"><use href="#E"/><text>→</text></g>
<g id="k39-7" class="k w" transform="translate(448 2038)"><use href="#E"/><text>→</text></g>
<g id="k40-1" class="k w" transform="translate(136 2090)"><use href="#E"/><text>←</text></g>
<g id="k40-2" class="k w" transform="translate(188 2090)"><use href="#E"/><text>←</text></g>
<g id="k40-3" class="k d" transform="translate(240 2090)"><use href="#E"/><text>←</text></g>
<g id="k40-4" class="k d" transform="translate(292 2090)"><use href="#E"/><text>←</text></g>
<g id="k40-5" class="k d" transform="translate(344 2090)"><use href="#E"/><text>←</text></g>
<g id="k40-6" class="k w" transform="translate(396 2090)"><use href="#E"/><text>←</text></g>
<g id="k40-7" class="k w" transform="translate(448 2090)"><use href="#E"/><text>←</text></g>
<g id="k41-2" class="k w" transform="translate(188 2142)"><use href="#E"/><text>→</text></g>
<g id="k41-3" class="k w" transform="translate(240 2142)"><use href="#E"/><text>→</text></g>
<g id="k41-4" class="k d" transform="translate(292 2142)"><use href="#E"/><text>→</text></g>
<g id="k41-5" class="k d" transform="translate(344 2142)"><use href="#E"/><text>→</text></g>
<g id="k41-6" class="k d" transform="translate(396 2142)"><use href="#E"/><text>→</text></g>
<g id="k41-7" class="k w" transform="translate(448 2142)"><use href="#E"/><text>→</text></g>
<g id="k42-3" class="k w" transform="translate(240 2194)"><use href="#E"/><text>←</text></g>
<g id="k42-4" class="k w" transform="translate(292 2194)"><use href="#E"/><text>←</text></g>
<g id="k42-5" class="k d" transform="translate(344 2194)"><use href="#E"/><text>←</text></g>
<g id="k42-6" class="k w" transform="translate(396 2194)"><use href="#E"/><text>←</text></g>
<g id="k42-7" class="k w" transform="translate(448 2194)"><use href="#E"/><text>←</text></g>
<g id="k43-4" class="k w" transform="translate(292 2246)"><use href="#E"/><text>→</text></g>
<g id="k43-5" class="k w" transform="translate(344 2246)"><use href="#E"/><text>→</text></g>
<g id="k43-6" class="k w" transform="translate(396 2246)"><use href="#E"/><text>→</text></g>
<g id="k44-4" class="k w" transform="translate(292 2298)"><use href="#E"/><text>←</text></g>
<g id="k44-5" class="k w" transform="translate(344 2298)"><use href="#E"/><text>←</text></g>
<g id="k44-6" class="k w" transform="translate(396 2298)"><use href="#E"/><text>←</text></g>
<g id="k45-4" class="k w" transform="translate(292 2350)"><use href="#E"/><text>→</text></g>
<g id="k45-5" class="k w" transform="translate(344 2350)"><use href="#E"/><text>→</text></g>
<g id="k45-6" class="k w" transform="translate(396 2350)"><use href="#E"/><text>→</text></g>
</g>
<g id="strand-labels" class="sl">
<text x="30.5" y="62" fill="#000">D</text>
<text x="658" y="218" fill="#fff" text-anchor="end">C</text>
<text x="658" y="530" fill="#fff" text-anchor="end">B</text>
<text x="658" y="946" fill="#fff" text-anchor="end">A</text>
<text x="30.5" y="1466" fill="#fff">A</text>
<text x="30.5" y="1882" fill="#fff">B</text>
<text x="30.5" y="2194" fill="#fff">C</text>
<text x="658" y="2350" fill="#000" text-anchor="end">D</text>
</g>
<text id="watermark" x="344" y="1237.5" text-anchor="middle" font-family="Liberation Sans, Arial, sans-serif" font-weight="bold" font-size="15.8" textLength="153" lengthAdjust="spacingAndGlyphs" fill="#3a3a3a">BRACELETBOOK.COM</text>
</svg>
